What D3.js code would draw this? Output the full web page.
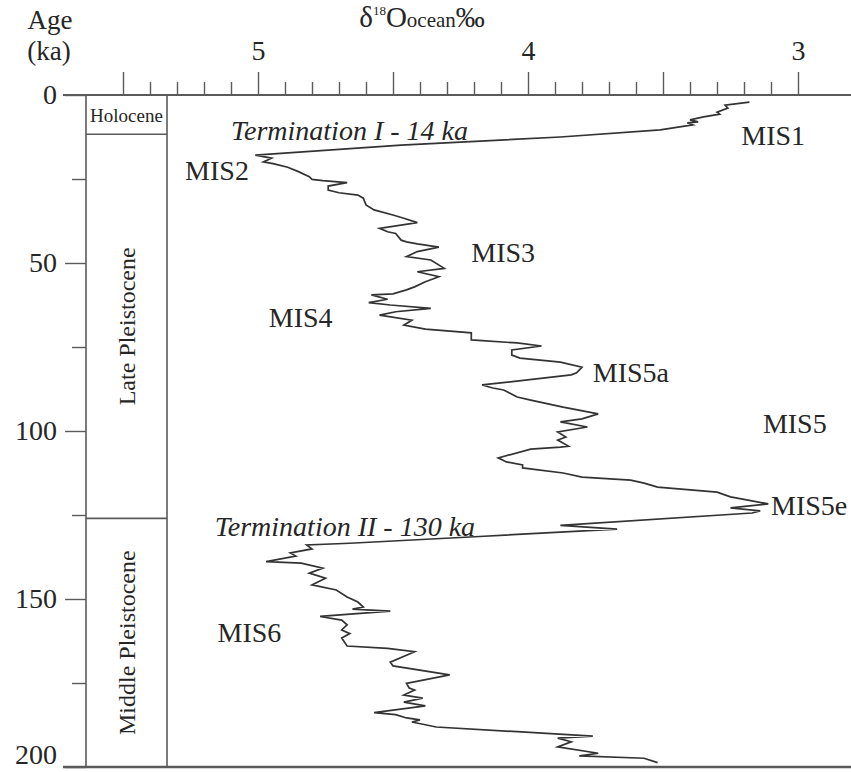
<!DOCTYPE html>
<html>
<head>
<meta charset="utf-8">
<script src="https://cdn.jsdelivr.net/npm/d3@7"></script>
<style>
  body { margin: 0; background: #fff; }
  svg { display: block; font-family: "Liberation Serif", "Times New Roman", serif; }
</style>
</head>
<body>
<div id="grafico"></div>
<script>
// Idade (ka) de cada ponto da curva
const idades = [2.1, 3.0, 3.9, 5.1, 5.7, 6.5, 7.4, 8.0, 8.3, 8.9,
  10.4, 12.5, 14.9, 17.9, 18.8, 19.9, 20.5, 21.5, 22.8, 24.3,
  25.1, 25.5, 26.1, 27.1, 28.3, 29.1, 29.8, 30.7, 32.7, 34.2,
  35.7, 36.7, 38.0, 39.7, 40.7, 41.2, 43.2, 43.7, 44.3, 45.3,
  46.6, 48.1, 49.1, 51.6, 52.6, 54.1, 55.6, 57.1, 58.0, 59.2,
  59.5, 60.8, 61.8, 62.5, 63.5, 64.5, 65.5, 67.0, 68.5, 69.7,
  70.8, 72.9, 73.8, 74.7, 75.9, 77.4, 78.3, 79.5, 81.0, 82.7,
  83.3, 86.3, 87.2, 87.8, 89.9, 90.8, 92.9, 94.9, 96.4, 97.3,
  98.8, 100.3, 101.8, 102.7, 104.5, 104.8, 105.4, 108.0, 109.2, 110.1,
  111.0, 112.5, 113.7, 114.6, 115.5, 116.7, 118.2, 119.6, 121.7, 122.9,
  123.8, 124.4, 128.1, 129.2, 131.4, 133.4, 133.9, 135.1, 136.3, 137.2,
  138.9, 139.3, 140.8, 142.3, 143.8, 145.8, 147.3, 149.4, 150.9, 152.4,
  153.0, 153.6, 155.2, 156.3, 157.7, 159.2, 160.3, 161.6, 164.0, 164.7,
  165.7, 168.8, 169.9, 172.6, 175.1, 176.5, 177.1, 178.6, 179.5, 180.7,
  181.8, 183.8, 184.4, 185.4, 186.0, 186.6, 188.1, 189.5, 190.8, 191.4,
  192.5, 194.0, 195.9, 196.7, 197.4, 198.7];

// delta 18O do oceano (‰) de cada ponto
const d18O = [3.18, 3.27, 3.26, 3.30, 3.29, 3.35, 3.40, 3.37, 3.41, 3.39,
  3.51, 3.88, 4.47, 5.01, 4.95, 4.98, 4.94, 4.89, 4.85, 4.81,
  4.80, 4.76, 4.67, 4.74, 4.74, 4.70, 4.63, 4.61, 4.60, 4.57,
  4.50, 4.46, 4.41, 4.55, 4.52, 4.49, 4.47, 4.45, 4.41, 4.33,
  4.41, 4.45, 4.36, 4.31, 4.41, 4.33, 4.38, 4.42, 4.45, 4.50,
  4.58, 4.52, 4.59, 4.51, 4.36, 4.49, 4.55, 4.43, 4.46, 4.38,
  4.21, 4.21, 4.04, 3.95, 4.06, 4.06, 4.03, 3.88, 3.80, 3.82,
  3.84, 4.17, 4.13, 4.09, 4.04, 3.99, 3.87, 3.74, 3.80, 3.88,
  3.78, 3.89, 3.86, 3.89, 3.85, 3.88, 3.99, 4.11, 4.08, 4.02,
  4.02, 3.87, 3.80, 3.62, 3.57, 3.52, 3.30, 3.25, 3.11, 3.25,
  3.14, 3.17, 3.88, 3.67, 4.18, 4.66, 4.82, 4.80, 4.88, 4.86,
  4.97, 4.84, 4.76, 4.81, 4.75, 4.80, 4.71, 4.67, 4.63, 4.61,
  4.65, 4.51, 4.77, 4.69, 4.67, 4.69, 4.66, 4.69, 4.67, 4.52,
  4.42, 4.51, 4.50, 4.29, 4.45, 4.44, 4.42, 4.46, 4.39, 4.46,
  4.38, 4.57, 4.49, 4.45, 4.40, 4.43, 4.34, 4.04, 3.76, 3.89,
  3.84, 3.89, 3.74, 3.81, 3.57, 3.52];

// Ticks dos eixos
const ticksIdade = [0, 50, 100, 150, 200];
const ticksIdadeMenor = [25, 75, 125, 175];
const ticksDelta = [5.5, 5, 4.5, 4, 3.5, 3];
const ticksDeltaMenor = [5.4, 5.3, 5.2, 5.1, 4.9, 4.8, 4.7, 4.6, 4.4, 4.3, 4.2, 4.1,
  3.9, 3.8, 3.7, 3.6, 3.4, 3.3, 3.2, 3.1];

// Épocas (coluna da esquerda)
const epocas = ['Holocene', 'Late Pleistocene', 'Middle Pleistocene'];
const limitesEpocas = [0, 11.7, 126, 200];

// Estágios isotópicos e terminações (âncora em unidades dos dados)
const estagios = ['MIS1', 'MIS2', 'MIS3', 'MIS4', 'MIS5a', 'MIS5', 'MIS5e', 'MIS6'];
const estagiosIdade = [14.9, 25.3, 49.7, 69.0, 85.4, 100.6, 125.0, 162.8];
const estagiosDelta = [3.21, 5.27, 4.21, 4.96, 3.76, 3.13, 3.10, 5.15];
const terminacoes = ['Termination I - 14 ka', 'Termination II - 130 ka'];
const terminacoesIdade = [13.4, 131.3];
const terminacoesDelta = [5.10, 5.16];

// Dimensões
const largura = 851;
const altura = 772;
const topo = 95;
const base = 767;
const eixoEsq = 86;   // linha do eixo de idade
const colunaDir = 167; // borda direita da coluna de épocas
const inicioLinha = 63;

const corLinha = '#5a5a5a';
const corTexto = '#262626';

const svg = d3.select('#grafico')
  .append('svg')
  .attr('width', largura)
  .attr('height', altura)
  .style('background', '#fff');

const x = d3.scaleLinear().domain([5, 3]).range([258, 798]);
const y = d3.scaleLinear().domain([0, 200]).range([topo, base]);

// Estilo comum dos eixos
function estiloEixo(g) {
  g.attr('font-family', null).attr('font-size', 28);
  g.selectAll('.tick line').attr('stroke', corLinha).attr('stroke-width', 1.4);
  g.selectAll('.tick text').attr('fill', corTexto);
  g.select('.domain').remove();
}

// Eixo superior (delta 18O)
svg.append('g')
  .attr('transform', `translate(0,${topo})`)
  .call(d3.axisTop(x).tickValues(ticksDeltaMenor).tickSize(13).tickFormat(''))
  .call(estiloEixo);

svg.append('g')
  .attr('transform', `translate(0,${topo})`)
  .call(d3.axisTop(x).tickValues(ticksDelta).tickSize(23).tickPadding(12)
    .tickFormat(d => Number.isInteger(d) ? d : ''))
  .call(estiloEixo);

// Eixo de idade
svg.append('g')
  .attr('transform', `translate(${eixoEsq},0)`)
  .call(d3.axisLeft(y).tickValues(ticksIdadeMenor).tickSize(14).tickFormat(''))
  .call(estiloEixo);

svg.append('g')
  .attr('transform', `translate(${eixoEsq},0)`)
  .call(d3.axisLeft(y).tickValues(ticksIdade).tickSize(21).tickPadding(8))
  .call(estiloEixo)
  // o rótulo 200 fica colado na borda de baixo
  .call(g => g.selectAll('.tick text').filter(d => d === 200).attr('dy', '-0.12em'));

// Linhas de moldura
svg.append('line')
  .attr('x1', inicioLinha).attr('x2', largura)
  .attr('y1', y(0)).attr('y2', y(0))
  .attr('stroke', corLinha).attr('stroke-width', 2);

svg.append('line')
  .attr('x1', inicioLinha).attr('x2', largura)
  .attr('y1', y(200)).attr('y2', y(200))
  .attr('stroke', corLinha).attr('stroke-width', 2.4);

svg.append('line')
  .attr('x1', eixoEsq).attr('x2', eixoEsq)
  .attr('y1', y(0)).attr('y2', y(200))
  .attr('stroke', corLinha).attr('stroke-width', 1.6);

svg.append('line')
  .attr('x1', colunaDir).attr('x2', colunaDir)
  .attr('y1', y(0)).attr('y2', y(200))
  .attr('stroke', corLinha).attr('stroke-width', 1.6);

// Limites das épocas
svg.selectAll('.limite')
  .data(limitesEpocas.slice(1, -1))
  .enter()
  .append('line')
  .attr('class', 'limite')
  .attr('x1', eixoEsq).attr('x2', colunaDir)
  .attr('y1', d => y(d)).attr('y2', d => y(d))
  .attr('stroke', corLinha).attr('stroke-width', 1.6);

// Nomes das épocas
epocas.forEach((nome, i) => {
  const meio = (y(limitesEpocas[i]) + y(limitesEpocas[i + 1])) / 2;
  const cx = (eixoEsq + colunaDir) / 2;
  const t = svg.append('text')
    .attr('text-anchor', 'middle')
    .attr('dy', '0.35em')
    .attr('fill', corTexto)
    .text(nome);
  if (i === 0) {
    t.attr('x', cx).attr('y', meio + 1).attr('font-size', 19);
  } else {
    t.attr('transform', `translate(${cx},${meio}) rotate(-90)`).attr('font-size', 24);
  }
});

// Curva
const pontos = idades.map((d, i) => ({ idade: d, valor: d18O[i] }));
const linha = d3.line()
  .x(d => x(d.valor))
  .y(d => y(d.idade));

svg.append('path')
  .datum(pontos)
  .attr('d', linha)
  .attr('fill', 'none')
  .attr('stroke', '#333')
  .attr('stroke-width', 1.7)
  .attr('stroke-linejoin', 'miter');

// Rótulos dos estágios
svg.selectAll('.estagio')
  .data(estagios)
  .enter()
  .append('text')
  .attr('class', 'estagio')
  .attr('x', (d, i) => x(estagiosDelta[i]))
  .attr('y', (d, i) => y(estagiosIdade[i]))
  .attr('font-size', 28)
  .attr('fill', corTexto)
  .text(d => d);

svg.selectAll('.terminacao')
  .data(terminacoes)
  .enter()
  .append('text')
  .attr('class', 'terminacao')
  .attr('x', (d, i) => x(terminacoesDelta[i]))
  .attr('y', (d, i) => y(terminacoesIdade[i]))
  .attr('font-size', 28)
  .attr('font-style', 'italic')
  .attr('fill', corTexto)
  .text(d => d);

// Títulos dos eixos
svg.append('text')
  .attr('x', 50).attr('y', 29)
  .attr('text-anchor', 'middle')
  .attr('font-size', 27)
  .attr('fill', corTexto)
  .text('Age');

svg.append('text')
  .attr('x', 49).attr('y', 60)
  .attr('text-anchor', 'middle')
  .attr('font-size', 27)
  .attr('fill', corTexto)
  .text('(ka)');

const titulo = svg.append('text')
  .attr('x', 422).attr('y', 27)
  .attr('text-anchor', 'middle')
  .attr('font-size', 29)
  .attr('fill', corTexto);
titulo.append('tspan').text('δ');
titulo.append('tspan').attr('font-size', 13).attr('dy', -12).text('18');
titulo.append('tspan').attr('dy', 12).text('O');
titulo.append('tspan').attr('font-size', 21).text('ocean');
titulo.append('tspan').text('‰');
</script>
</body>
</html>
